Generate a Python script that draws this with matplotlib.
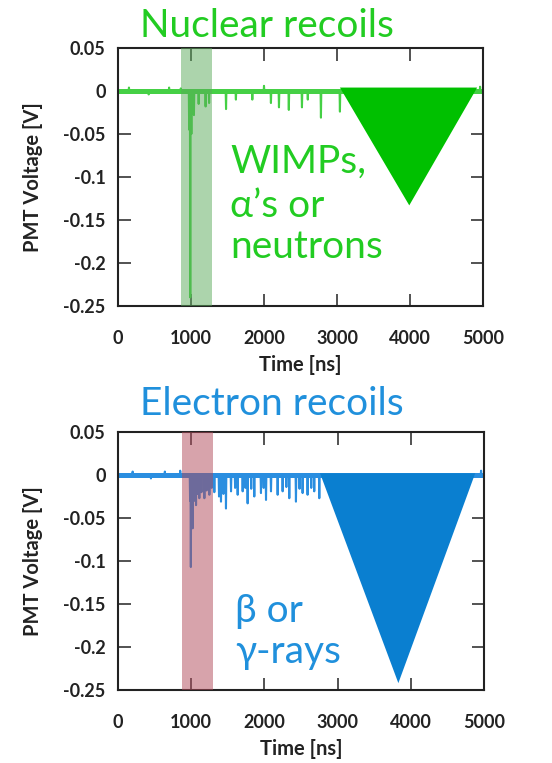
import numpy as np
import matplotlib.pyplot as plt

# time axis / spike readings (ns, V)
nr_spike_t = [150, 420, 700, 860, 975, 990, 1005, 1040, 1105, 1200, 1248, 1480, 1615,
              1840, 2000, 2095, 2205, 2340, 2520, 2600, 2780, 3040, 4960]
nr_spike_v = [0.004, -0.004, 0.004, 0.003, -0.045, -0.240, -0.050, -0.028, -0.015, -0.018,
              -0.014, -0.021, -0.010, -0.010, 0.006, -0.014, -0.019, -0.022, -0.019,
              -0.010, -0.031, -0.024, 0.005]

er_spike_t = [200, 450, 640, 850, 985, 995, 1020, 1045, 1066, 1090, 1111, 1140, 1180, 1210,
              1248, 1280, 1316, 1380, 1407, 1440, 1475, 1544, 1600, 1635, 1703, 1740,
              1771, 1820, 1862, 1953, 1990, 2022, 2090, 2181, 2249, 2300, 2340, 2431,
              2480, 2522, 2590, 2640, 2681, 2750, 4960]
er_spike_v = [0.004, -0.004, 0.004, 0.005, -0.030, -0.107, -0.062, -0.030, -0.035, -0.022,
              -0.027, -0.020, -0.027, -0.018, -0.023, -0.015, -0.020, -0.025, -0.031,
              -0.022, -0.039, -0.019, -0.015, -0.023, -0.019, -0.015, -0.033, -0.016,
              -0.025, -0.021, -0.015, -0.029, -0.019, -0.023, -0.019, -0.014, -0.027,
              -0.031, -0.016, -0.021, -0.023, -0.015, -0.019, -0.027, 0.005]

# shaded prompt windows and hand-drawn triangles (ns, V)
nr_window = (860, 1290)
er_window = (870, 1300)
nr_tri_t = [3040, 4920, 3990]
nr_tri_v = [0.004, 0.004, -0.133]
er_tri_t = [2760, 4880, 3830]
er_tri_v = [0.002, 0.002, -0.242]

xticks = [0, 1000, 2000, 3000, 4000, 5000]
yticks = [0.05, 0, -0.05, -0.1, -0.15, -0.2, -0.25]
yticklabels = ["0.05", "0", "-0.05", "-0.1", "-0.15", "-0.2", "-0.25"]


def trace(spk_t, spk_v):
    t = [0]
    v = [0]
    for a, b in zip(spk_t, spk_v):
        t += [a - 5, a, a + 5]
        v += [0, b, 0]
    t.append(5000)
    v.append(0)
    return t, v


W, H = 552, 763
fig = plt.figure(figsize=(W / 100, H / 100), dpi=100)

fam = ["Lato", "DejaVu Sans"]


def panel(rect, spk_t, spk_v, lc, window, wc, tri_t, tri_v, tc):
    ax = fig.add_axes(rect)
    t, v = trace(spk_t, spk_v)
    ax.axhline(0, color=lc, lw=3.6, zorder=2)
    ax.plot(t, v, color=lc, lw=1.5, zorder=2)
    ax.axvspan(window[0], window[1], color=wc, alpha=0.5, lw=0, zorder=3)
    ax.fill(tri_t, tri_v, color=tc, lw=0, zorder=4)
    ax.set_xlim(0, 5000)
    ax.set_ylim(-0.25, 0.05)
    ax.set_xticks(xticks)
    ax.set_yticks(yticks)
    ax.set_yticklabels(yticklabels)
    ax.tick_params(direction="in", length=9, width=1.3, top=True, right=True,
                   colors="#444444", labelcolor="#222222")
    ax.tick_params(axis="x", pad=17)
    ax.tick_params(axis="y", pad=9)
    for lab in ax.get_xticklabels() + ax.get_yticklabels():
        lab.set_fontfamily(fam)
        lab.set_fontweight("bold")
        lab.set_fontsize(13)
    for s in ax.spines.values():
        s.set_linewidth(1.5)
        s.set_color("#222222")
    ax.set_xlabel("Time [ns]", family=fam, weight="bold", size=14.5, color="#222222")
    ax.set_ylabel("PMT Voltage [V]", family=fam, weight="bold", size=14.5, color="#222222")
    ax.xaxis.set_label_coords(0.5, -0.19)
    ax.yaxis.set_label_coords(-0.205, 0.5)
    return ax


ax1 = panel([118 / W, 1 - 306 / H, 365 / W, 258 / H], nr_spike_t, nr_spike_v,
            "#45d045", nr_window, "#5aaa5a", nr_tri_t, nr_tri_v, "#00c000")
ax2 = panel([118 / W, 1 - 690 / H, 366 / W, 258 / H], er_spike_t, er_spike_v,
            "#2a8ee0", er_window, "#b04858", er_tri_t, er_tri_v, "#0a7fd0")

fig.text(267 / W, 1 - 37 / H, "Nuclear recoils", color="#22cc22", size=28,
         family=fam, ha="center", va="baseline")
fig.text(272 / W, 1 - 415 / H, "Electron recoils", color="#2090dc", size=28,
         family=fam, ha="center", va="baseline")

for txt, yv in zip(["WIMPs,", "\u03b1\u2019s or", "neutrons"], [-0.095, -0.1465, -0.194]):
    ax1.text(1534, yv, txt, color="#22cc22", size=28, family=fam,
             ha="left", va="baseline", zorder=5)
for txt, yv in zip(["\u03b2 or", "\u03b3-rays"], [-0.171, -0.2186]):
    ax2.text(1598, yv, txt, color="#2090dc", size=28, family=fam,
             ha="left", va="baseline", zorder=5)

fig.savefig("out.png", dpi=100)
